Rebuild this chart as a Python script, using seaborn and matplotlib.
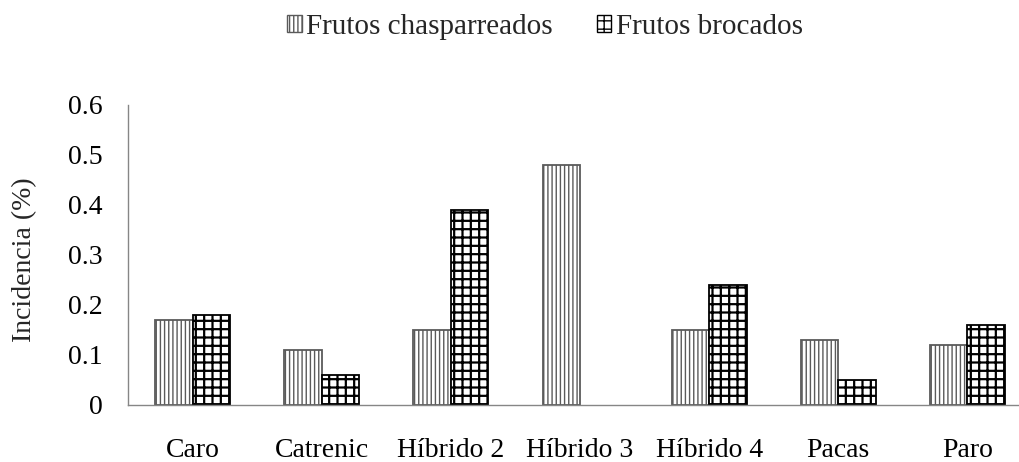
import pandas as pd
import matplotlib.pyplot as plt
import matplotlib.patches as mpatches
import seaborn as sns

categories = ["Caro", "Catrenic", "Híbrido 2", "Híbrido 3", "Híbrido 4", "Pacas", "Paro"]
series_names = ["Frutos chasparreados", "Frutos brocados"]
chasparreados = [0.17, 0.11, 0.15, 0.48, 0.15, 0.13, 0.12]
brocados = [0.18, 0.06, 0.39, 0.0, 0.24, 0.05, 0.16]
y_ticks = [0, 0.1, 0.2, 0.3, 0.4, 0.5, 0.6]
y_tick_labels = ["0", "0.1", "0.2", "0.3", "0.4", "0.5", "0.6"]

df = pd.DataFrame({
    "Variedad": categories * 2,
    "Serie": [series_names[0]] * len(categories) + [series_names[1]] * len(categories),
    "Incidencia": chasparreados + brocados,
})

sns.set_theme(style="white")
plt.rcParams["font.family"] = ["Liberation Serif", "DejaVu Serif"]
plt.rcParams["hatch.linewidth"] = 1.0

axis_gray = "#868686"
font_size = 20

fig = plt.figure(figsize=(10.19, 4.62), dpi=100)
# axis runs past the right edge of the picture, as in the reference
ax = fig.add_axes([128 / 1019, (462 - 405) / 462, (1032 - 128) / 1019, 300 / 462])

sns.barplot(
    data=df,
    x="Variedad",
    y="Incidencia",
    hue="Serie",
    hue_order=series_names,
    palette=["white", "white"],
    width=0.58,
    legend=False,
    ax=ax)

# hatch, edge colour, hatch line width per series
styles = [("||||", "#5a5a5a", 1.0), ("++", "black", 1.6)]
for container, (hatch, edge, hlw) in zip(ax.containers, styles):
    for bar in container:
        bar.set_hatch(hatch)
        bar.set_edgecolor(edge)
        bar.set_linewidth(1.3)
        if hasattr(bar, "set_hatch_linewidth"):
            bar.set_hatch_linewidth(hlw)
        if bar.get_height() == 0:
            bar.set_visible(False)

ax.set_xlim(-0.5, len(categories) - 0.5)
ax.set_ylim(0, 0.6)
ax.set_yticks(y_ticks)
ax.set_yticklabels(y_tick_labels, fontsize=font_size)
ax.set_xticks(range(len(categories)))
ax.set_xticklabels(categories, fontsize=font_size)
ax.set_xticks([i - 0.5 for i in range(len(categories) + 1)], minor=True)
ax.tick_params(axis="x", which="major", length=0, pad=24, colors="black")
ax.tick_params(axis="x", which="minor", length=6, width=1, color=axis_gray, direction="out")
ax.tick_params(axis="y", length=6, width=1, color=axis_gray, direction="out", pad=12, colors="black")
ax.tick_params(axis="y", color=axis_gray)

for side in ["top", "right"]:
    ax.spines[side].set_visible(False)
for side in ["left", "bottom"]:
    ax.spines[side].set_color(axis_gray)
    ax.spines[side].set_linewidth(1)

ax.set_xlabel("")
ax.set_ylabel("Incidencia (%)", fontsize=font_size)
ax.yaxis.set_label_coords(-0.10, 0.483)

handles = [
    mpatches.Patch(facecolor="white", edgecolor=edge, hatch=hatch, linewidth=1)
    for hatch, edge, hlw in styles
]
fig.legend(
    handles,
    series_names,
    loc="center",
    bbox_to_anchor=(545 / 1019, 1 - 27 / 462),
    ncol=2,
    frameon=False,
    fontsize=21,
    handlelength=0.5,
    handleheight=0.5,
    handletextpad=0.15,
    columnspacing=1.5)

fig.savefig("out.png", dpi=100)
